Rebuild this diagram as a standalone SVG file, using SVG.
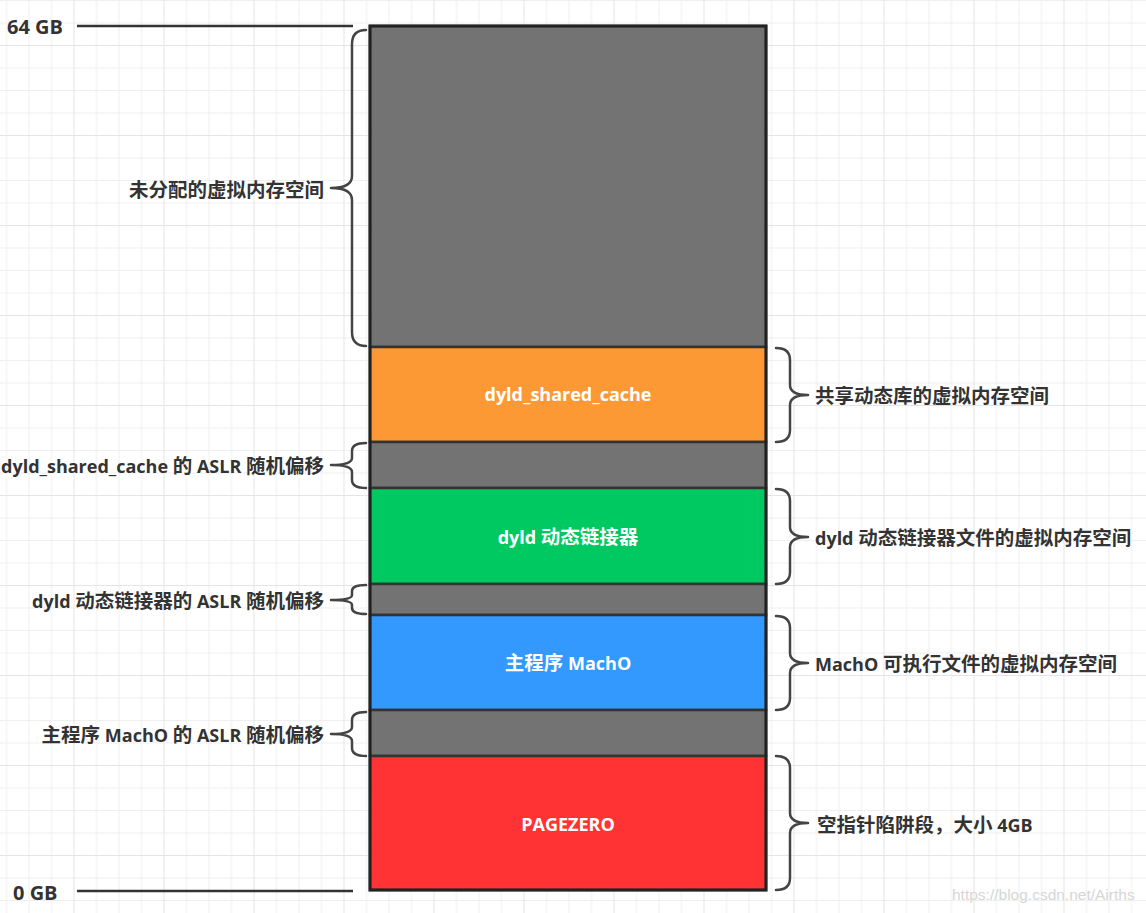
<svg xmlns="http://www.w3.org/2000/svg" width="1146" height="913" viewBox="0 0 1146 913">
  <style>
    .lbl { font-family: "Open Sans", "Noto Sans CJK SC", sans-serif; font-weight: bold; font-size: 18px; fill: #333333; }
    .in { font-family: "Open Sans", "Noto Sans CJK SC", sans-serif; font-weight: bold; font-size: 18px; fill: #ffffff; text-anchor: middle; }
    .cj { font-family: "Noto Sans CJK SC", sans-serif; font-size: 19.5px; }
    .gb { font-size: 20px; }
    .end { text-anchor: end; }
    .seg { stroke: #333333; stroke-width: 2.5; }
    .brace { fill: none; stroke: #444444; stroke-width: 2.5; stroke-linecap: round; stroke-linejoin: round; }
    .axis { stroke: #333333; stroke-width: 2.5; }
    .wm { font-family: "Liberation Sans", Arial, sans-serif; font-size: 15.5px; fill: #d6d6d6; }
  </style>
  <defs>
    <!-- minor grid every 22.5px, heavier line every fourth -->
    <pattern id="grid" x="73.5" y="45" width="90" height="90" patternUnits="userSpaceOnUse">
      <path d="M23 0V90M45.5 0V90M68 0V90M0 23H90M0 45.5H90M0 68H90" fill="none" stroke="#efefef" stroke-width="1"/>
      <path d="M0.5 0V90M0 0.5H90" fill="none" stroke="#e4e4e4" stroke-width="1"/>
    </pattern>
  </defs>

  <rect width="1146" height="913" fill="#ffffff"/>
  <rect width="1146" height="913" fill="url(#grid)"/>

  <!-- address range markers -->
  <g id="axis-top">
    <line class="axis" x1="77" y1="26" x2="353" y2="26"/>
    <text class="lbl gb" x="7" y="34">64 GB</text>
  </g>
  <g id="axis-bottom">
    <line class="axis" x1="77" y1="891" x2="353" y2="891"/>
    <text class="lbl gb" x="13" y="900">0 GB</text>
  </g>

  <!-- memory column -->
  <g id="unallocated">
    <rect class="seg" x="370" y="26" width="396" height="321" fill="#737373"/>
  </g>
  <g id="dyld-shared-cache">
    <rect class="seg" x="370" y="347" width="396" height="95" fill="#fd9934"/>
    <text class="in" x="568" y="401">dyld_shared_cache</text>
  </g>
  <g id="cache-aslr">
    <rect class="seg" x="370" y="442" width="396" height="46" fill="#737373"/>
  </g>
  <g id="dyld">
    <rect class="seg" x="370" y="488" width="396" height="96" fill="#00c962"/>
    <text class="in" x="568" y="544">dyld <tspan class="cj">动态链接器</tspan></text>
  </g>
  <g id="dyld-aslr">
    <rect class="seg" x="370" y="584" width="396" height="31" fill="#737373"/>
  </g>
  <g id="macho">
    <rect class="seg" x="370" y="615" width="396" height="95" fill="#3399ff"/>
    <text class="in" x="568" y="670"><tspan class="cj">主程序</tspan> MachO</text>
  </g>
  <g id="macho-aslr">
    <rect class="seg" x="370" y="710" width="396" height="46" fill="#737373"/>
  </g>
  <g id="pagezero">
    <rect class="seg" x="370" y="756" width="396" height="134" fill="#ff3333"/>
    <text class="in" x="568" y="831">PAGEZERO</text>
  </g>
  <rect x="370" y="26" width="396" height="864" fill="none" stroke="#222222" stroke-width="3"/>

  <!-- braces -->
  <g id="connectors">
    <path class="brace" d="M366 30Q352 30 352 44L352 176Q352 188 331 188Q352 188 352 200L352 332Q352 346 366 346"/>
    <path class="brace" d="M366 443Q352 443 352 451L352 458Q352 465 331 465Q352 465 352 472L352 480Q352 488 366 488"/>
    <path class="brace" d="M366 585Q352 585 352 591L352 595Q352 600 331 600Q352 600 352 605L352 608Q352 614 366 614"/>
    <path class="brace" d="M366 712Q352 712 352 720L352 727Q352 734 331 734Q352 734 352 741L352 748Q352 756 366 756"/>

    <path class="brace" d="M776 348Q790 348 790 360L790 385Q790 395 808 395Q790 395 790 405L790 430Q790 442 776 442"/>
    <path class="brace" d="M776 489Q790 489 790 501L790 527Q790 537 808 537Q790 537 790 547L790 572Q790 584 776 584"/>
    <path class="brace" d="M776 616Q790 616 790 628L790 653Q790 663 808 663Q790 663 790 673L790 698Q790 710 776 710"/>
    <path class="brace" d="M776 756Q790 756 790 768L790 813Q790 823 808 823Q790 823 790 833L790 878Q790 890 776 890"/>
  </g>

  <!-- labels -->
  <g id="labels-left">
    <text class="lbl end" x="324" y="197"><tspan class="cj">未分配的虚拟内存空间</tspan></text>
    <text class="lbl end" x="324" y="473">dyld_shared_cache <tspan class="cj">的</tspan> ASLR <tspan class="cj">随机偏移</tspan></text>
    <text class="lbl end" x="324" y="608">dyld <tspan class="cj">动态链接器的</tspan> ASLR <tspan class="cj">随机偏移</tspan></text>
    <text class="lbl end" x="324" y="742"><tspan class="cj">主程序</tspan> MachO <tspan class="cj">的</tspan> ASLR <tspan class="cj">随机偏移</tspan></text>
  </g>
  <g id="labels-right">
    <text class="lbl" x="815" y="403"><tspan class="cj">共享动态库的虚拟内存空间</tspan></text>
    <text class="lbl" x="815" y="545">dyld <tspan class="cj">动态链接器文件的虚拟内存空间</tspan></text>
    <text class="lbl" x="815" y="671">MachO <tspan class="cj">可执行文件的虚拟内存空间</tspan></text>
    <text class="lbl" x="817" y="832"><tspan class="cj">空指针陷阱段，大小</tspan> 4GB</text>
  </g>

  <text class="wm" x="952" y="900">https://blog.csdn.net/Airths</text>
</svg>
